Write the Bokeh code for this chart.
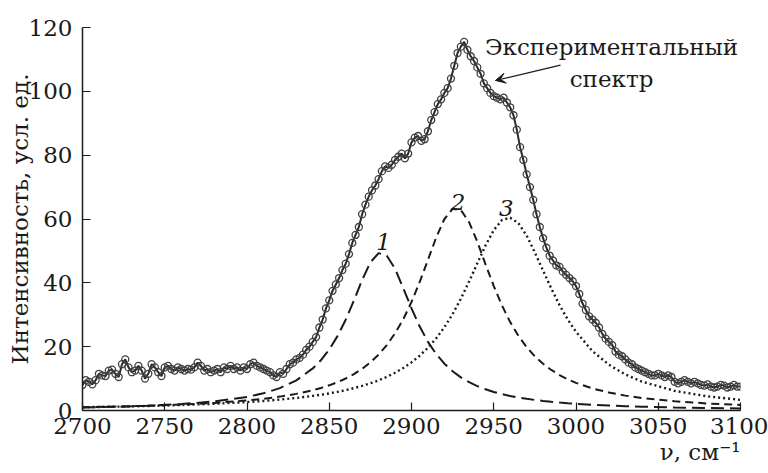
from bokeh.plotting import figure
from bokeh.models import FixedTicker, Label, Arrow, VeeHead, Range1d, ColumnDataSource, Title
from bokeh.embed import file_html
from bokeh.resources import INLINE

# ---------------- data ----------------
exp_x = list(range(2700, 3101, 2))
exp_y = [
    8.0, 9.5, 9.0, 8.2, 9.5, 11.5, 11.0, 10.8, 12.5, 12.8,
    11.5, 10.5, 14.5, 16.0, 13.5, 12.0, 12.5, 14.0, 12.5, 10.0,
    11.5, 14.5, 13.5, 12.0, 10.8, 13.5, 14.0, 13.0, 12.5, 13.5,
    13.0, 12.5, 13.0, 12.8, 13.5, 15.0, 14.0, 12.5, 13.0, 12.0,
    12.5, 13.0, 12.0, 13.5, 13.0, 14.0, 13.0, 13.5, 12.5, 13.5,
    13.0, 14.5, 15.0, 14.0, 13.5, 13.0, 12.5, 12.0, 11.0, 10.5,
    12.0, 11.5, 13.0, 14.5, 15.0, 16.0, 16.5, 17.5, 19.0, 20.0,
    21.5, 23.0, 26.0, 28.5, 32.0, 34.5, 37.5, 39.5, 41.5, 44.0,
    46.0, 49.0, 52.5, 55.0, 57.5, 61.5, 64.5, 67.0, 69.0, 70.5,
    72.5, 75.0, 76.5, 76.0, 77.0, 78.5, 79.5, 80.5, 79.0, 80.5,
    84.0, 85.5, 86.0, 84.5, 85.0, 87.5, 91.0, 93.5, 96.0, 97.5,
    99.5, 101.0, 104.0, 108.0, 112.0, 114.0, 115.5, 113.0, 111.0, 109.5,
    107.5, 105.5, 102.5, 101.0, 99.5, 98.5, 98.0, 97.5, 98.0, 96.5,
    95.0, 92.5, 88.0, 82.5, 78.5, 74.0, 70.0, 66.0, 61.5, 57.5,
    54.0, 51.0, 48.5, 47.0, 45.5, 45.0, 43.5, 42.5, 41.5, 40.5,
    39.0, 36.5, 33.5, 31.5, 29.5, 28.5, 27.5, 26.0, 24.0, 22.5,
    21.5, 20.5, 18.5, 17.5, 17.0, 16.0, 15.0, 14.5, 13.5, 13.0,
    12.5, 12.0, 11.5, 11.0, 11.0, 11.5, 11.0, 10.5, 11.0, 10.5,
    9.0, 8.5, 9.0, 9.5, 9.0, 8.5, 9.0, 8.5, 8.0, 7.8,
    8.2, 7.5, 7.2, 7.5, 8.0, 7.8, 7.2, 7.5, 8.0, 7.5,
    7.5,
]

comp_x = [2700, 2720, 2740, 2760, 2780, 2800, 2810, 2820, 2830, 2840,
          2845, 2850, 2855, 2860, 2865, 2870, 2875, 2880, 2885, 2890,
          2895, 2900, 2905, 2910, 2915, 2920, 2925, 2930, 2935, 2940,
          2945, 2950, 2955, 2960, 2965, 2970, 2975, 2980, 2985, 2990,
          2995, 3000, 3010, 3020, 3030, 3040, 3060, 3080, 3100]
comp1_y = [0.92, 1.16, 1.50, 2.01, 2.83, 4.26, 5.39, 7.02, 9.44, 13.18,
           15.8, 19.13, 23.3, 28.45, 34.5, 40.9, 46.4, 49.3, 48.5, 44.4,
           38.3, 32.0, 26.3, 21.5, 17.7, 14.68, 12.29, 10.39, 8.87, 7.64,
           6.64, 5.82, 5.13, 4.56, 4.07, 3.66, 3.30, 3.00, 2.73, 2.49,
           2.29, 2.11, 1.81, 1.56, 1.36, 1.20, 0.95, 0.77, 0.64]
comp2_y = [1.02, 1.22, 1.49, 1.86, 2.38, 3.15, 3.67, 4.35, 5.21, 6.35,
           7.06, 7.89, 8.86, 10.02, 11.40, 13.06, 15.07, 17.51, 20.5, 24.2,
           28.6, 34.0, 40.3, 47.2, 54.2, 60.0, 63.2, 62.8, 59.0, 52.9,
           45.8, 39.0, 32.9, 27.7, 23.4, 19.85, 16.98, 14.63, 12.7, 11.10,
           9.77, 8.66, 6.91, 5.63, 4.66, 3.92, 2.88, 2.20, 1.74]
comp3_y = [1.03, 1.20, 1.42, 1.71, 2.11, 2.65, 2.99, 3.42, 3.93, 4.57,
           4.94, 5.36, 5.84, 6.38, 7.00, 7.71, 8.52, 9.45, 10.55, 11.82,
           13.32, 15.08, 17.18, 19.66, 22.6, 26.1, 30.25, 35.0, 40.4, 46.1,
           51.7, 56.5, 59.7, 60.4, 58.7, 54.8, 49.5, 43.8, 38.2, 33.0,
           28.5, 24.65, 18.6, 14.34, 11.29, 9.06, 6.16, 4.43, 3.32]

x_ticks = [2700, 2750, 2800, 2850, 2900, 2950, 3000, 3050, 3100]
y_ticks = [0, 20, 40, 60, 80, 100, 120]

peak_labels = ["1", "2", "3"]
peak_label_x = [2883, 2928.3, 2957.7]
peak_label_y = [52.7, 65.2, 63.6]

SERIF = "DejaVu Serif"
INK = "#1a1a1a"
FS = "23px"

p = figure(width=768, height=473, output_backend="svg", toolbar_location=None,
           x_range=Range1d(2700, 3100), y_range=Range1d(0, 120),
           min_border_left=82, min_border_right=28, min_border_top=27,
           min_border_bottom=63)
p.outline_line_color = None
p.grid.visible = False
p.background_fill_color = "white"
p.border_fill_color = "white"

for ax in (p.xaxis[0], p.yaxis[0]):
    ax.axis_line_color = INK
    ax.axis_line_width = 1.5
    ax.major_tick_line_color = INK
    ax.major_tick_line_width = 1.2
    ax.major_tick_in = 8
    ax.major_tick_out = 0
    ax.minor_tick_line_color = None
    ax.major_label_text_font = SERIF
    ax.major_label_text_font_size = FS
    ax.major_label_text_color = INK

p.xaxis.ticker = FixedTicker(ticks=x_ticks)
p.yaxis.ticker = FixedTicker(ticks=y_ticks)
p.xaxis.major_label_standoff = 7
p.yaxis.major_label_standoff = 10
p.yaxis.axis_label = "Интенсивность, усл. ед."
p.yaxis.axis_label_text_font = SERIF
p.yaxis.axis_label_text_font_size = FS
p.yaxis.axis_label_text_font_style = "normal"
p.yaxis.axis_label_text_color = INK
p.yaxis.axis_label_standoff = -7

xlab = Title(text="ν, см⁻¹", align="right", text_font=SERIF, text_font_size=FS,
             text_font_style="normal", text_color=INK, standoff=0)
p.add_layout(xlab, "below")

# components
p.line(comp_x, comp1_y, line_color=INK, line_width=2, line_dash="13 6")
p.line(comp_x, comp2_y, line_color=INK, line_width=2, line_dash="8 5")
p.line(comp_x, comp3_y, line_color=INK, line_width=2.4, line_dash="2 3")

# experimental spectrum
src = ColumnDataSource(dict(x=exp_x, y=exp_y))
p.line("x", "y", source=src, line_color="#2a2a2a", line_width=2)
p.scatter("x", "y", source=src, marker="circle", size=7, fill_alpha=0,
          line_color="#404040", line_width=1.3)

for t, lx, ly in zip(peak_labels, peak_label_x, peak_label_y):
    p.add_layout(Label(x=lx, y=ly, text=t, text_font=SERIF, text_font_size=FS,
                       text_font_style="italic", text_align="center",
                       text_baseline="alphabetic", text_color=INK))

p.add_layout(Label(x=3021.6, y=113.8, text="Экспериментальный", text_font=SERIF,
                   text_font_size=FS, text_align="center",
                   text_baseline="alphabetic", text_color=INK))
p.add_layout(Label(x=3021.6, y=104, text="спектр", text_font=SERIF,
                   text_font_size=FS, text_align="center",
                   text_baseline="alphabetic", text_color=INK))
p.add_layout(Arrow(end=VeeHead(size=10, line_color=INK, fill_color=INK, line_width=1),
                   x_start=2990.6, y_start=108.2, x_end=2951, y_end=103.4,
                   line_color=INK, line_width=1.2))

open("out.html", "w").write(file_html(p, INLINE))
